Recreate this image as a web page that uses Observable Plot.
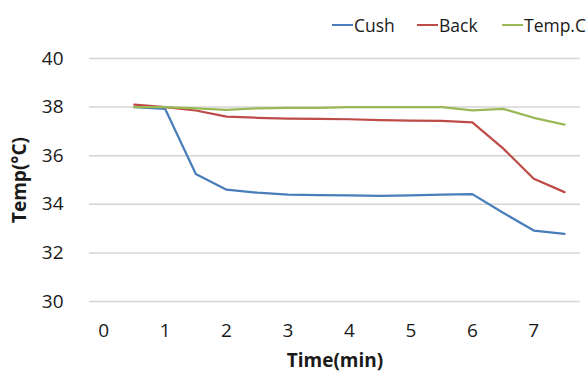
<!DOCTYPE html>
<html>
<head>
<meta charset="utf-8">
<script src="https://cdn.jsdelivr.net/npm/d3@7"></script>
<script src="https://cdn.jsdelivr.net/npm/@observablehq/plot@0.6"></script>
<style>
  html, body { margin: 0; padding: 0; background: #fff; }
  #wrap { position: relative; width: 588px; height: 372px; overflow: hidden; font-family: "Open Sans", sans-serif; }
  #legend { position: absolute; top: 13px; left: 332px; display: flex; font-size: 17.5px; color: #1a1a1a; white-space: nowrap; }
  #legend .item { display: flex; align-items: center; width: 85px; }
  #legend .sw { display: inline-block; width: 21px; height: 2.25px; margin-right: 1px; }
  svg [aria-label="x-axis label"] text, svg [aria-label="y-axis label"] text { font-weight: bold; }
</style>
</head>
<body>
<div id="wrap"><div id="legend"></div></div>
<script>
const times = [0.5, 1, 1.5, 2, 2.5, 3, 3.5, 4, 4.5, 5, 5.5, 6, 6.5, 7, 7.5];
const cush  = [38.0, 37.93, 35.25, 34.6, 34.48, 34.4, 34.38, 34.37, 34.35, 34.37, 34.4, 34.42, 33.65, 32.92, 32.78];
const back  = [38.1, 38.0, 37.86, 37.61, 37.56, 37.53, 37.52, 37.5, 37.46, 37.44, 37.43, 37.37, 36.3, 35.05, 34.5];
const tempC = [38.0, 38.0, 37.95, 37.89, 37.95, 37.97, 37.97, 38.0, 38.0, 38.0, 38.0, 37.87, 37.93, 37.56, 37.28];
const seriesNames = ["Cush", "Back", "Temp.C"];
const seriesColors = ["#4A7EBB", "#BE4B48", "#98B954"];
const xTicks = [0, 1, 2, 3, 4, 5, 6, 7];
const yTicks = [30, 32, 34, 36, 38, 40];

const seriesValues = [cush, back, tempC];
const data = [];
seriesNames.forEach((name, k) => {
  times.forEach((t, i) => data.push({series: name, time: t, temp: seriesValues[k][i]}));
});

const chart = Plot.plot({
  width: 588,
  height: 372,
  marginLeft: 89,
  marginRight: 8,
  marginTop: 58,
  marginBottom: 71,
  style: {fontFamily: "'Open Sans', sans-serif", fontSize: "19px", color: "#1a1a1a", background: "#fff"},
  x: {domain: [-0.23, 7.76]},
  y: {domain: [30, 40]},
  color: {domain: seriesNames, range: seriesColors},
  marks: [
    Plot.gridY(yTicks, {stroke: "#d4d4d4", strokeOpacity: 1, strokeWidth: 1.5}),
    Plot.axisY(yTicks, {tickSize: 0, tickPadding: 26, label: "Temp(°C)", labelArrow: "none", labelAnchor: "center", labelOffset: 77, fontSize: 19}),
    Plot.axisX(xTicks, {tickSize: 0, tickPadding: 22, label: "Time(min)", labelArrow: "none", labelAnchor: "center", labelOffset: 65, fontSize: 19}),
    Plot.line(data, {x: "time", y: "temp", z: "series", stroke: "series", strokeWidth: 2.25})
  ]
});
document.getElementById("wrap").prepend(chart);

const legend = document.getElementById("legend");
seriesNames.forEach((name, k) => {
  const item = document.createElement("span");
  item.className = "item";
  const sw = document.createElement("span");
  sw.className = "sw";
  sw.style.background = seriesColors[k];
  item.appendChild(sw);
  item.appendChild(document.createTextNode(name));
  legend.appendChild(item);
});
</script>
</body>
</html>
